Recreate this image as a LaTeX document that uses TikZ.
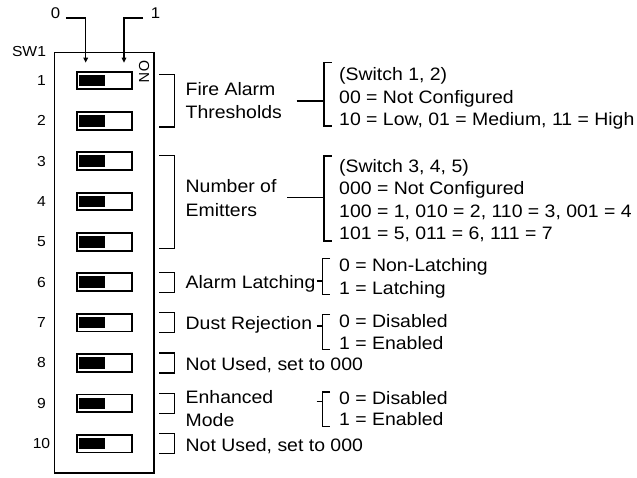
\documentclass[tikz,border=0pt]{standalone}
\usepackage{fontspec}
\setmainfont{Liberation Sans}[FakeStretch=1.08]
\newfontfamily\plainfont{Liberation Sans}
\usetikzlibrary{arrows.meta}
\begin{document}
\begin{tikzpicture}[x=1pt,y=-1pt,
  lbl/.style={anchor=base west,inner sep=0pt,font=\fontsize{18}{21}\selectfont},
  num/.style={inner sep=0pt,font=\fontsize{14.5}{16}\selectfont},
  swbox/.style={draw,line width=1.9pt,minimum width=54.9pt,minimum height=17.7pt,inner sep=0pt},
  knob/.style={fill=black,minimum width=25.7pt,minimum height=11.6pt,inner sep=0pt},
  brk/.style={line width=1.4pt},
  arr/.style={line width=1.3pt,-{Triangle[length=5pt,width=4.5pt]}}]
\useasboundingbox (0,0) rectangle (637,477);
% housing
\draw[line width=1.4pt] (54.5,52.5) rectangle (154,473);
\node[num,anchor=base] (sw) at (29,56.7) {SW1};
% switches
\foreach \i in {1,...,10}{
  \pgfmathsetmacro\c{80.5+(\i-1)*40.35}
  \node[swbox] (s\i) at (104.35,\c) {};
  \node[knob] (k\i) at (92.15,\c) {};
  \node[num] (n\i) at (41.5,\c) {\i};
}
% ON label and position arrows
\node[inner sep=0pt,rotate=-90,font=\plainfont\fontsize{14.5}{16}\selectfont] (on) at (144.2,71.7) {ON};
\node[inner sep=0pt,font=\fontsize{15.5}{17}\selectfont] (p0) at (55.5,12.8) {0};
\node[inner sep=0pt,font=\fontsize{15.5}{17}\selectfont] (p1) at (155.5,12.8) {1};
\coordinate (t0) at (85.7,62.7);
\coordinate (t1) at (124,62.7);
\draw[arr] ([xshift=5.5pt]p0.base east) -| (t0);
\draw[arr] ([xshift=-7.5pt]p1.base west) -| (t1);
% brackets next to the switches
\draw[brk] (159.3,74.5) -- (174.3,74.5) -- (174.3,126.8) -- (159.3,126.8);
\draw[brk] (159.3,155.7) -- (174.3,155.7) -- (174.3,248.3) -- (159.3,248.3);
\foreach \c in {282.25,322.6,362.95,403.3,443.65}{
  \draw[brk] (159.3,\c-10) -- (174.3,\c-10) -- (174.3,\c+10) -- (159.3,\c+10);
}
% group 1
\node[lbl] (fa1) at (185.5,95.7) {Fire Alarm};
\node[lbl] (fa2) at (185.5,118.3) {Thresholds};
\coordinate (g1a) at (296.7,101);
\coordinate (g1b) at (324,101);
\draw[brk] (g1a) -- (g1b);
\draw[brk] (331.5,62.7) -- (324,62.7) -- (324,126) -- (331.5,126);
\node[lbl] (fo1) at (339,80.3) {(Switch 1, 2)};
\node[lbl] (fo2) at (339,103) {00 = Not Configured};
\node[lbl] (fo3) at (339,125.3) {10 = Low, 01 = Medium, 11 = High};
% group 2
\node[lbl] (ne1) at (185.5,192.5) {Number of};
\node[lbl] (ne2) at (185.5,216) {Emitters};
\coordinate (g2a) at (287.3,197.3);
\coordinate (g2b) at (324,197.3);
\draw[brk] (g2a) -- (g2b);
\draw[brk] (331.5,156) -- (324,156) -- (324,241) -- (331.5,241);
\node[lbl] (no1) at (339,172) {(Switch 3, 4, 5)};
\node[lbl] (no2) at (339,194.5) {000 = Not Configured};
\node[lbl] (no3) at (339,217) {100 = 1, 010 = 2, 110 = 3, 001 = 4};
\node[lbl] (no4) at (339,239.5) {101 = 5, 011 = 6, 111 = 7};
% alarm latching
\node[lbl] (al) at (185.5,288.3) {Alarm Latching};
\coordinate (g3a) at (316.7,281);
\coordinate (g3b) at (322.7,281);
\draw[brk] (g3a) -- (g3b);
\draw[brk] (330,258.5) -- (322.7,258.5) -- (322.7,294.5) -- (330,294.5);
\node[lbl] (ao1) at (339,271.6) {0 = Non-Latching};
\node[lbl] (ao2) at (339,294) {1 = Latching};
% dust rejection
\node[lbl] (dr) at (185.5,329) {Dust Rejection};
\coordinate (g4a) at (316.7,326);
\coordinate (g4b) at (322.7,326);
\draw[brk] (g4a) -- (g4b);
\draw[brk] (330,314.5) -- (322.7,314.5) -- (322.7,349.5) -- (330,349.5);
\node[lbl] (do1) at (339,327.3) {0 = Disabled};
\node[lbl] (do2) at (339,349) {1 = Enabled};
% not used 8
\node[lbl] (nu8) at (185.5,370.3) {Not Used, set to 000};
% enhanced mode
\node[lbl] (em1) at (185.5,403.3) {Enhanced};
\node[lbl] (em2) at (185.5,426) {Mode};
\coordinate (g5a) at (316.7,401.7);
\coordinate (g5b) at (322.7,401.7);
\draw[brk] (g5a) -- (g5b);
\draw[brk] (330,392) -- (322.7,392) -- (322.7,426.3) -- (330,426.3);
\node[lbl] (eo1) at (339,404) {0 = Disabled};
\node[lbl] (eo2) at (339,425.6) {1 = Enabled};
% not used 10
\node[lbl] (nu10) at (185.5,451.3) {Not Used, set to 000};
\end{tikzpicture}
\end{document}
